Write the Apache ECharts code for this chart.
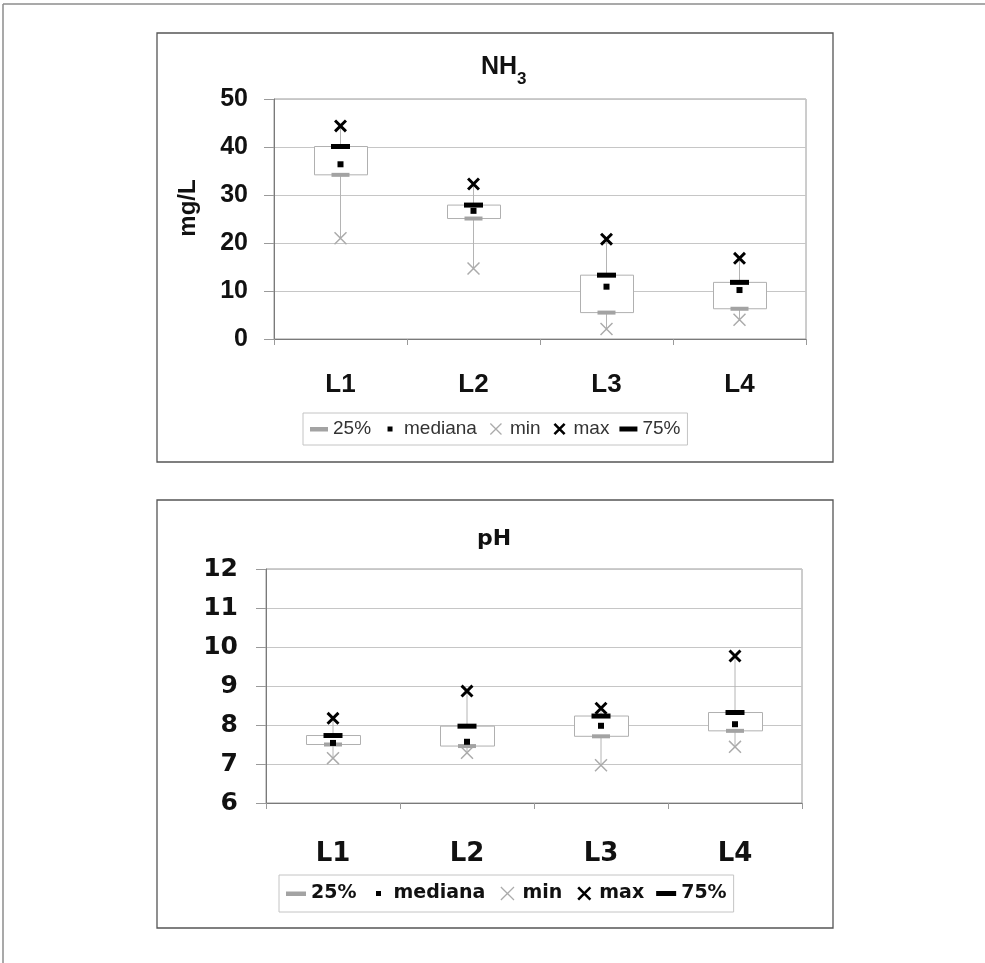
<!DOCTYPE html>
<html>
<head>
<meta charset="utf-8">
<script src="https://cdn.jsdelivr.net/npm/echarts@6/dist/echarts.min.js"></script>
<style>
html, body { margin: 0; padding: 0; background: #fff; }
#main { width: 985px; height: 963px; }
</style>
</head>
<body>
<div id="main"></div>
<script>
var categories = ['L1', 'L2', 'L3', 'L4'];

// NH3 (mg/L)
var nh3Min = [21.0, 14.7, 2.1, 4.0];
var nh3Q1 = [34.2, 25.1, 5.5, 6.3];
var nh3Median = [36.4, 26.7, 10.9, 10.2];
var nh3Q3 = [40.1, 27.9, 13.3, 11.8];
var nh3Max = [44.4, 32.3, 20.8, 16.8];
var nh3Ticks = [0, 50, 10];

// pH
var phMin = [7.15, 7.29, 6.97, 7.44];
var phQ1 = [7.50, 7.46, 7.71, 7.85];
var phMedian = [7.54, 7.57, 7.98, 8.02];
var phQ3 = [7.73, 7.97, 8.23, 8.32];
var phMax = [8.17, 8.87, 8.43, 9.77];
var phTicks = [6, 12, 1];

var legendNames = ['25%', 'mediana', 'min', 'max', '75%'];

var myChart = echarts.init(document.getElementById('main'));

// X shape made of two filled bars, size s at (x, y), arm offset t
function crossPath(x, y, s, t) {
    var a = x, b = y, c = x + s, d = y + s;
    return 'M' + a + ',' + (b + t) + 'L' + (a + t) + ',' + b + 'L' + c + ',' + (d - t) + 'L' + (c - t) + ',' + d + 'Z' +
        'M' + (c - t) + ',' + b + 'L' + c + ',' + (b + t) + 'L' + (a + t) + ',' + d + 'L' + a + ',' + (d - t) + 'Z';
}

// legend icons, padded to the full icon box so they keep their size
function legendIcons(w, h, barW, xs) {
    var pad = 'M0,0M' + w + ',' + h;
    var cx = w / 2, cy = h / 2;
    return [
        'path://' + pad + 'M0,' + (cy - 2) + 'H' + barW + 'V' + (cy + 2.5) + 'H0Z',
        'path://' + pad + 'M' + (cx - 2.5) + ',' + (cy - 2.5) + 'h5v5h-5Z',
        'path://' + pad + crossPath(cx - xs / 2, cy - xs / 2, xs, 0.9),
        'path://' + pad + crossPath(cx - xs / 2, cy - xs / 2, xs, 1.8),
        'path://' + pad + 'M0,' + (cy - 2.5) + 'H' + barW + 'V' + (cy + 2.5) + 'H0Z'
    ];
}

function boxRows(mn, q1, med, q3, mx) {
    return categories.map(function (c, i) {
        return [i, mn[i], q1[i], med[i], q3[i], mx[i]];
    });
}

function renderBox(params, api) {
    var x = api.coord([api.value(0), 0])[0];
    var lo = api.coord([api.value(0), api.value(1)])[1];
    var q1 = api.coord([api.value(0), api.value(2)])[1];
    var q3 = api.coord([api.value(0), api.value(4)])[1];
    var hi = api.coord([api.value(0), api.value(5)])[1];
    var w = api.size([1, 0])[0] * 0.4;
    return {
        type: 'group',
        children: [
            { type: 'line', shape: { x1: x, y1: lo, x2: x, y2: hi }, style: { stroke: '#b4b4b4', lineWidth: 1 } },
            { type: 'rect', shape: { x: Math.round(x - w / 2) + 0.5, y: q3, width: Math.round(w), height: q1 - q3 }, style: { fill: '#fff', stroke: '#b0b0b0', lineWidth: 1 } }
        ]
    };
}

function chartSeries(idx, mn, q1, med, q3, mx) {
    return [
        {
            type: 'custom', name: 'box' + idx, xAxisIndex: idx, yAxisIndex: idx, z: 1,
            renderItem: renderBox, data: boxRows(mn, q1, med, q3, mx), silent: true
        },
        { type: 'scatter', name: 'min', xAxisIndex: idx, yAxisIndex: idx, data: mn, z: 3,
            symbol: 'path://' + crossPath(0, 0, 10, 0.8), symbolSize: 13, itemStyle: { color: '#ababab', opacity: 1 } },
        { type: 'scatter', name: '25%', xAxisIndex: idx, yAxisIndex: idx, data: q1, z: 3,
            symbol: 'rect', symbolSize: [18, 4], itemStyle: { color: '#a3a3a3', opacity: 1 } },
        { type: 'scatter', name: 'mediana', xAxisIndex: idx, yAxisIndex: idx, data: med, z: 4,
            symbol: 'rect', symbolSize: [6, 6], itemStyle: { color: '#000', opacity: 1 } },
        { type: 'scatter', name: 'max', xAxisIndex: idx, yAxisIndex: idx, data: mx, z: 4,
            symbol: 'path://' + crossPath(0, 0, 10, 1.6), symbolSize: 13, itemStyle: { color: '#000', opacity: 1 } },
        { type: 'scatter', name: '75%', xAxisIndex: idx, yAxisIndex: idx, data: q3, z: 5,
            symbol: 'rect', symbolSize: [19, 5], itemStyle: { color: '#000', opacity: 1 } }
    ];
}

function xAxisFor(idx, font, margin) {
    return {
        type: 'category', gridIndex: idx, data: categories,
        axisLine: { lineStyle: { color: '#7a7a7a', width: 1 } },
        axisTick: { show: true, length: 6, lineStyle: { color: '#9a9a9a' } },
        axisLabel: { margin: margin, color: '#111', fontSize: 26, fontWeight: 'bold', fontFamily: font },
        splitLine: { show: false }
    };
}

function yAxisFor(idx, ticks, font, size, margin) {
    return {
        type: 'value', gridIndex: idx, min: ticks[0], max: ticks[1], interval: ticks[2],
        axisLine: { show: true, lineStyle: { color: '#7a7a7a', width: 1 } },
        axisTick: { show: true, length: 10, lineStyle: { color: '#9a9a9a' } },
        axisLabel: { margin: margin, color: '#111', fontSize: size, fontWeight: 'bold', fontFamily: font },
        splitLine: { show: true, lineStyle: { color: '#c6c6c6', width: 1 } }
    };
}

var topIcons = legendIcons(18, 14, 18, 12);
var botIcons = legendIcons(20, 14, 20, 14);

option = {
    backgroundColor: '#fff',
    animation: false,
    title: [
        {
            text: '{n|NH}{s|3}', left: 481, top: 55, padding: 0,
            textStyle: {
                rich: {
                    n: { fontSize: 25, fontWeight: 'bold', color: '#111', fontFamily: 'Liberation Sans', verticalAlign: 'top' },
                    s: { fontSize: 17, fontWeight: 'bold', color: '#111', fontFamily: 'Liberation Sans', verticalAlign: 'top', padding: [16, 0, 0, 0] }
                }
            }
        },
        {
            text: 'pH', left: 477, top: 528, padding: 0,
            textStyle: { fontSize: 22, fontWeight: 'bold', color: '#111', fontFamily: 'DejaVu Sans' }
        }
    ],
    legend: [
        {
            left: 303, top: 413, itemWidth: 18, itemHeight: 14, itemGap: 10, padding: [6, 7],
            borderColor: '#c4c4c4', borderWidth: 1, backgroundColor: '#fff', selectedMode: false,
            textStyle: { fontFamily: 'Liberation Sans', fontSize: 19, color: '#333', lineHeight: 20 },
            data: legendNames.map(function (n, i) { return { name: n, icon: topIcons[i] }; })
        },
        {
            left: 279, top: 875, itemWidth: 20, itemHeight: 14, itemGap: 12, padding: [8, 7],
            borderColor: '#c4c4c4', borderWidth: 1, backgroundColor: '#fff', selectedMode: false,
            textStyle: { fontFamily: 'DejaVu Sans', fontWeight: 'bold', fontSize: 19, color: '#111', lineHeight: 21 },
            data: legendNames.map(function (n, i) { return { name: n, icon: botIcons[i] }; })
        }
    ],
    grid: [
        { left: 274, top: 99, width: 532, height: 240, show: true, borderColor: '#9a9a9a', borderWidth: 1, backgroundColor: '#fff', outerBoundsMode: 'none' },
        { left: 266, top: 569, width: 536, height: 234, show: true, borderColor: '#9a9a9a', borderWidth: 1, backgroundColor: '#fff', outerBoundsMode: 'none' }
    ],
    xAxis: [
        xAxisFor(0, 'Liberation Sans', 33),
        xAxisFor(1, 'DejaVu Sans', 38)
    ],
    yAxis: [
        Object.assign(yAxisFor(0, nh3Ticks, 'Liberation Sans', 25, 26), {
            name: 'mg/L', nameLocation: 'middle', nameRotate: 90, nameGap: 74, nameMoveOverlap: false,
            nameTextStyle: { fontSize: 24, fontWeight: 'bold', color: '#111', fontFamily: 'Liberation Sans', padding: [0, 0, 0, 22] }
        }),
        yAxisFor(1, phTicks, 'DejaVu Sans', 25, 28)
    ],
    graphic: [
        { type: 'line', shape: { x1: 3, y1: 4, x2: 985, y2: 4 }, style: { stroke: '#8c8c8c', lineWidth: 1.5 }, silent: true },
        { type: 'line', shape: { x1: 3, y1: 4, x2: 3, y2: 963 }, style: { stroke: '#8c8c8c', lineWidth: 1.5 }, silent: true },
        { type: 'rect', shape: { x: 157, y: 33, width: 676, height: 429 }, style: { fill: 'none', stroke: '#555', lineWidth: 1.3 }, silent: true },
        { type: 'rect', shape: { x: 157, y: 500, width: 676, height: 428 }, style: { fill: 'none', stroke: '#555', lineWidth: 1.3 }, silent: true }
    ],
    series: chartSeries(0, nh3Min, nh3Q1, nh3Median, nh3Q3, nh3Max)
        .concat(chartSeries(1, phMin, phQ1, phMedian, phQ3, phMax))
};

myChart.setOption(option);
</script>
</body>
</html>
